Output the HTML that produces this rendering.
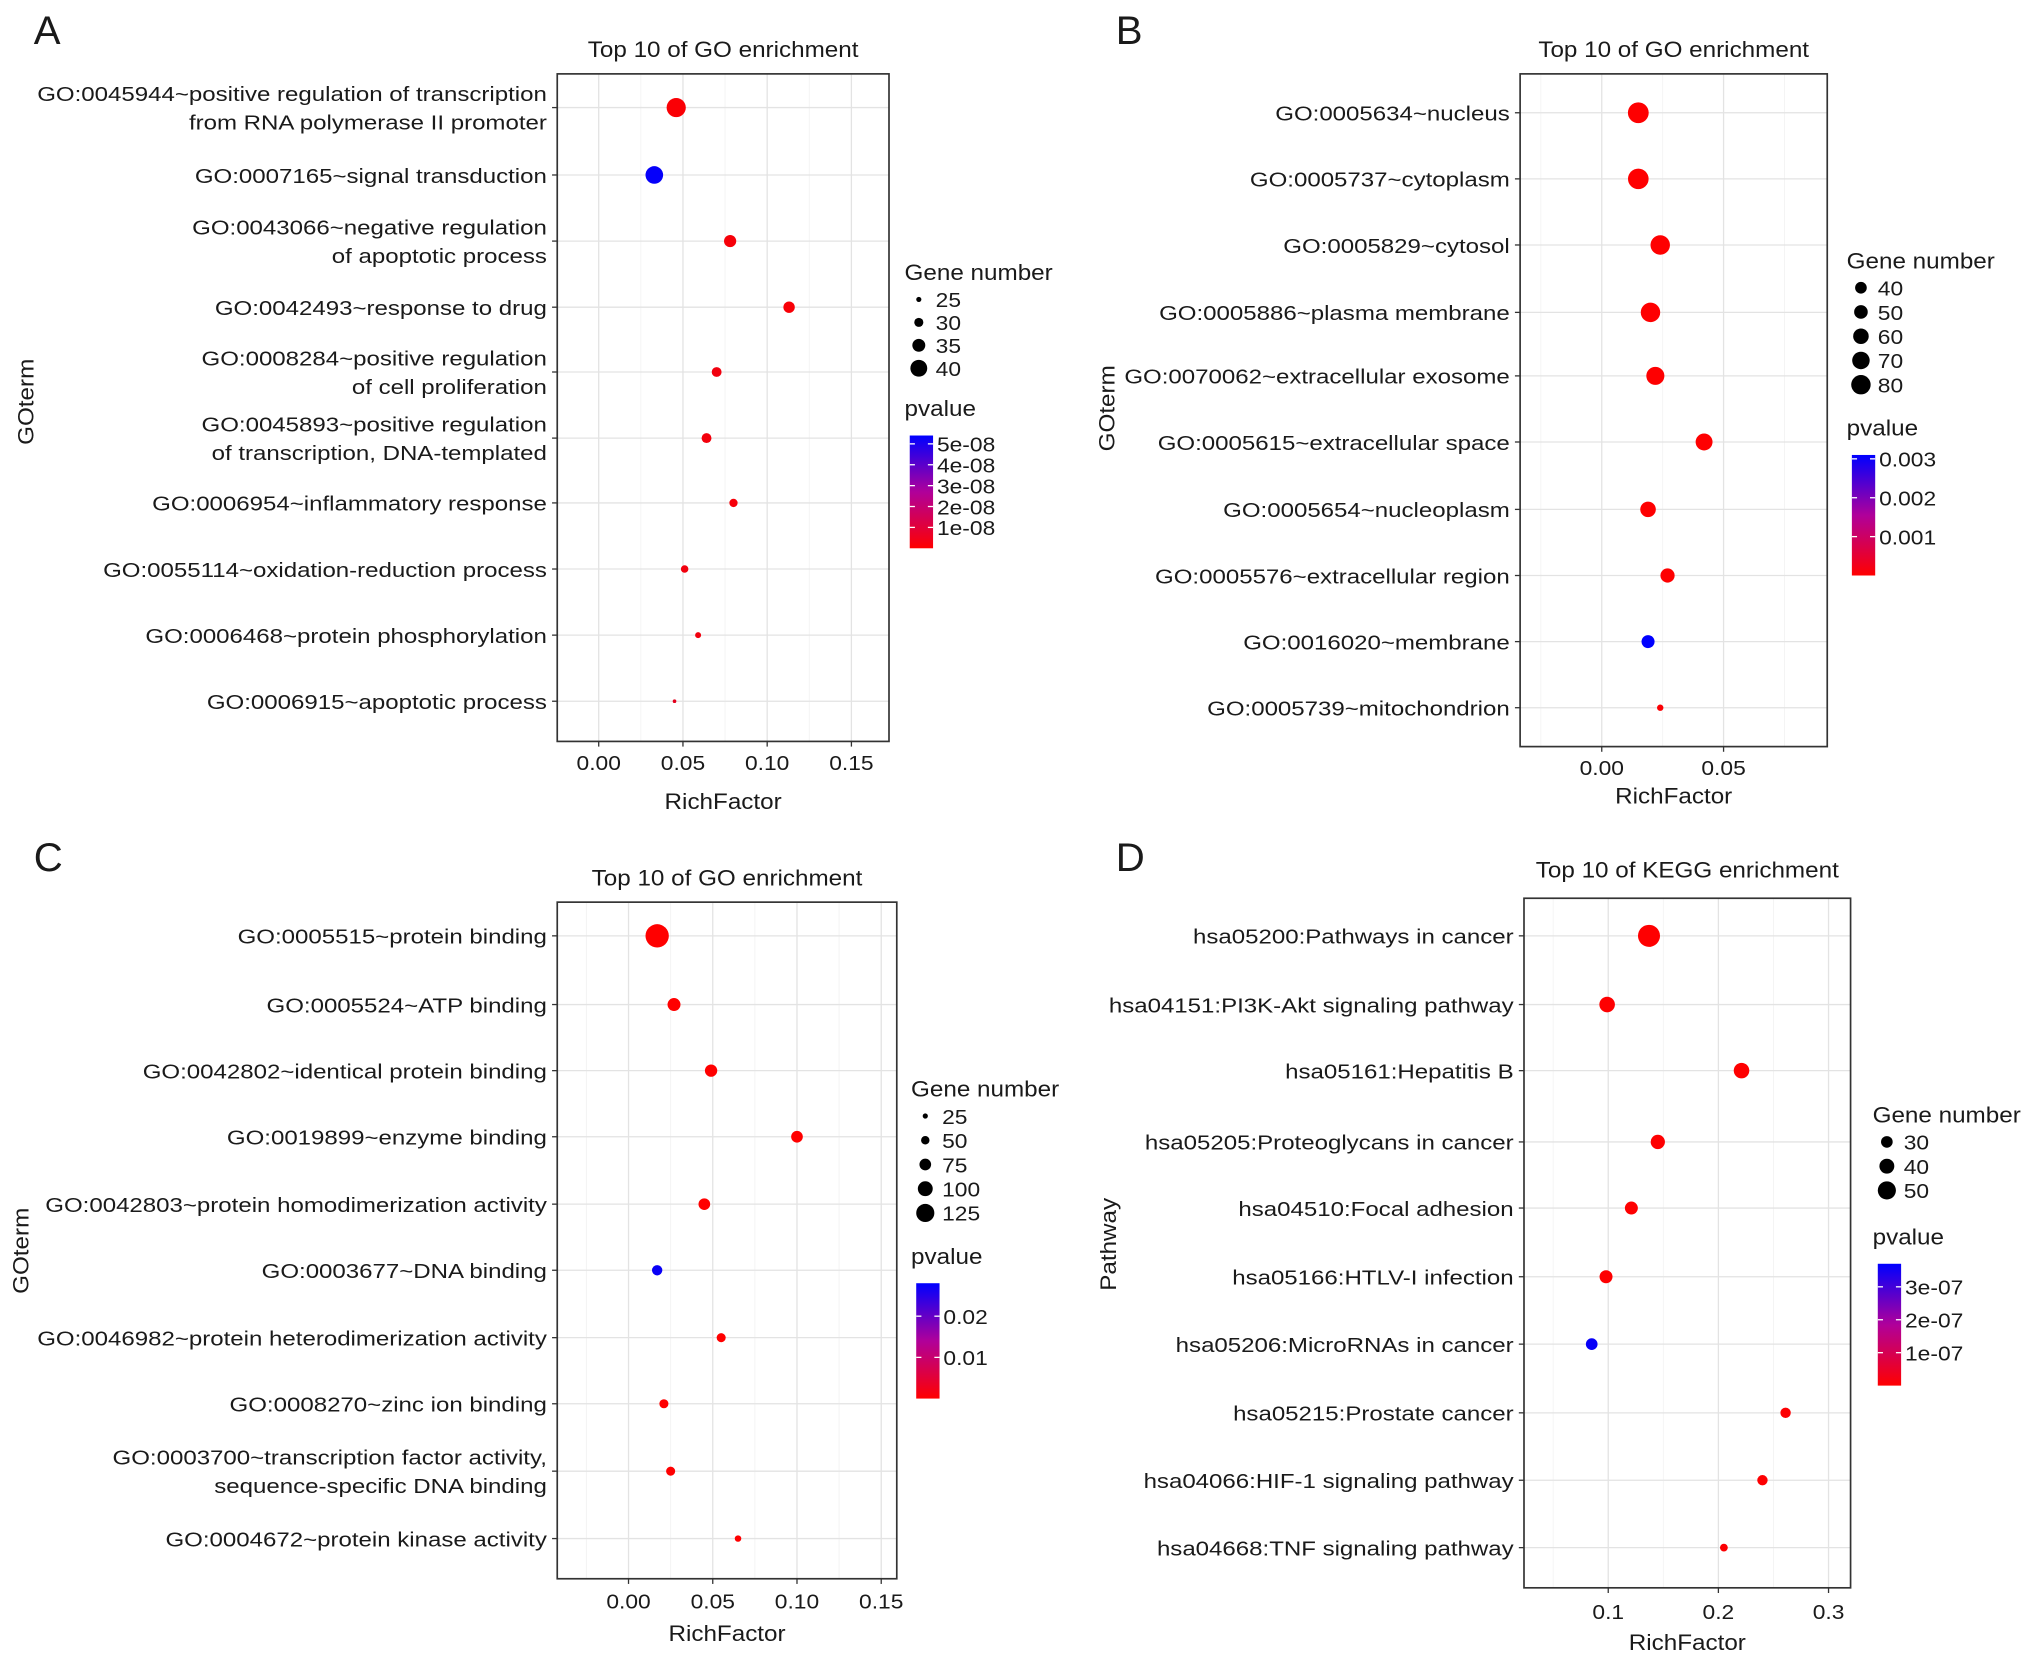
<!DOCTYPE html>
<html><head><meta charset="utf-8"><style>
html,body{margin:0;padding:0;background:#fff;}
svg{display:block;font-family:"Liberation Sans",Arial,sans-serif;}
</style></head><body>
<svg id="fig" width="2032" height="1663" viewBox="0 0 1568 1283" preserveAspectRatio="none" xmlns="http://www.w3.org/2000/svg"></svg>
<script>
// Panel A
const aTerms = ["GO:0045944~positive regulation of transcription\nfrom RNA polymerase II promoter","GO:0007165~signal transduction","GO:0043066~negative regulation\nof apoptotic process","GO:0042493~response to drug","GO:0008284~positive regulation\nof cell proliferation","GO:0045893~positive regulation\nof transcription, DNA-templated","GO:0006954~inflammatory response","GO:0055114~oxidation-reduction process","GO:0006468~protein phosphorylation","GO:0006915~apoptotic process"];
const aRich = [0.046,0.033,0.078,0.113,0.070,0.064,0.080,0.051,0.059,0.045];
const aCount = [43,41,34,33,31,31,29,28,26,23];
const aP = [1e-9,5.3e-8,2e-9,1.5e-9,3e-9,2.5e-9,2e-9,3e-9,3e-9,6e-9];
const aXTicks = [0,0.05,0.10,0.15];
const aXTickLabels = ["0.00","0.05","0.10","0.15"];
const aSizeLegend = [25,30,35,40];
const aPTicks = [5e-8,4e-8,3e-8,2e-8,1e-8];
const aPTickLabels = ["5e-08","4e-08","3e-08","2e-08","1e-08"];
// Panel B
const bTerms = ["GO:0005634~nucleus","GO:0005737~cytoplasm","GO:0005829~cytosol","GO:0005886~plasma membrane","GO:0070062~extracellular exosome","GO:0005615~extracellular space","GO:0005654~nucleoplasm","GO:0005576~extracellular region","GO:0016020~membrane","GO:0005739~mitochondrion"];
const bRich = [0.015,0.015,0.024,0.020,0.022,0.042,0.019,0.027,0.019,0.024];
const bCount = [87,86,80,80,73,67,60,53,47,13];
const bP = [1e-5,1e-5,1e-5,1e-5,1e-5,1e-5,1e-5,1e-5,3.1e-3,5e-5];
const bXTicks = [0,0.05];
const bXTickLabels = ["0.00","0.05"];
const bSizeLegend = [40,50,60,70,80];
const bPTicks = [0.003,0.002,0.001];
const bPTickLabels = ["0.003","0.002","0.001"];
// Panel C
const cTerms = ["GO:0005515~protein binding","GO:0005524~ATP binding","GO:0042802~identical protein binding","GO:0019899~enzyme binding","GO:0042803~protein homodimerization activity","GO:0003677~DNA binding","GO:0046982~protein heterodimerization activity","GO:0008270~zinc ion binding","GO:0003700~transcription factor activity,\nsequence-specific DNA binding","GO:0004672~protein kinase activity"];
const cRich = [0.017,0.027,0.049,0.100,0.045,0.017,0.055,0.021,0.025,0.065];
const cCount = [165,85,80,75,75,65,55,55,55,35];
const cP = [1e-5,1e-5,1e-5,1e-5,1e-5,0.027,1e-5,1e-4,1e-4,1e-4];
const cXTicks = [0,0.05,0.10,0.15];
const cXTickLabels = ["0.00","0.05","0.10","0.15"];
const cSizeLegend = [25,50,75,100,125];
const cPTicks = [0.02,0.01];
const cPTickLabels = ["0.02","0.01"];
// Panel D
const dTerms = ["hsa05200:Pathways in cancer","hsa04151:PI3K-Akt signaling pathway","hsa05161:Hepatitis B","hsa05205:Proteoglycans in cancer","hsa04510:Focal adhesion","hsa05166:HTLV-I infection","hsa05206:MicroRNAs in cancer","hsa05215:Prostate cancer","hsa04066:HIF-1 signaling pathway","hsa04668:TNF signaling pathway"];
const dRich = [0.137,0.099,0.221,0.145,0.121,0.098,0.085,0.261,0.240,0.205];
const dCount = [62,42,42,38,34,34,30,26,26,18];
const dP = [1e-9,1e-9,1e-9,2e-9,2e-9,2e-9,3.6e-7,3e-9,3e-9,5e-9];
const dXTicks = [0.1,0.2,0.3];
const dXTickLabels = ["0.1","0.2","0.3"];
const dSizeLegend = [30,40,50];
const dPTicks = [3e-7,2e-7,1e-7];
const dPTickLabels = ["3e-07","2e-07","1e-07"];

const NS="http://www.w3.org/2000/svg";
const svg=document.getElementById('fig');
function mk(tag,attrs,parent){
  const e=document.createElementNS(NS,tag);
  for(const k in attrs)e.setAttribute(k,attrs[k]);
  (parent||svg).appendChild(e);
  return e;
}
function txt(s,x,y,size,anchor,parent,sx){
  sx=sx||1.1;
  const t=mk('text',{x:0,y:0,'font-size':size,'text-anchor':anchor||'start',fill:'#1a1a1a',transform:`translate(${x},${y}) scale(${sx},1)`},parent);
  t.textContent=s;return t;
}
function pcolor(p,pmin,pmax){
  let f=(p-pmin)/(pmax-pmin);f=Math.max(0,Math.min(1,f));
  const r=Math.round(255*(1-f)),b=Math.round(255*f);
  return `rgb(${r},0,${b})`;
}
function panel(cfg){
  const g=mk('g',{},svg);
  
  
  const L=cfg.box[0],T=cfg.box[1],R=cfg.box[2],B=cfg.box[3];
  const xs=v=>cfg.x0px+(v-cfg.x0)*cfg.pxPer;
  const rs=n=>cfg.r0+(n-cfg.n0)*cfg.rPer;
  const lt=txt(cfg.letter,cfg.letterPos[0],cfg.letterPos[1],31,'start',g,1.0);
  
  
  const tt=txt(cfg.title,(L+R)/2,cfg.titleY,17,'middle',g);
  
  
  mk('rect',{x:L,y:T,width:R-L,height:B-T,fill:'#fff'},g);
  const step=cfg.ticks[1]-cfg.ticks[0];
  for(let v=cfg.ticks[0]-step*2;v<=cfg.ticks[cfg.ticks.length-1]+step*2;v+=step/2){
    const X=xs(v);if(X<=L||X>=R)continue;
    const major=cfg.ticks.some(t=>Math.abs(t-v)<1e-9);
    mk('line',{x1:X,x2:X,y1:T,y2:B,stroke:major?'#e3e3e3':'#f3f3f3','stroke-width':major?1:0.7},g);
  }
  cfg.rows.forEach(y=>mk('line',{x1:L,x2:R,y1:y,y2:y,stroke:'#e3e3e3','stroke-width':1},g));
  const frame=mk('rect',{x:L,y:T,width:R-L,height:B-T,fill:'none',stroke:'#333','stroke-width':1.3},g);
  
  
  cfg.terms.forEach((s,i)=>{
    const y=cfg.rows[i];
    mk('line',{x1:L-4,x2:L,y1:y,y2:y,stroke:'#333','stroke-width':1},g);
    const lines=s.split('\n');
    lines.forEach((ln,j)=>{
      const yy=y+6+(j-(lines.length-1)/2)*22;
      const t=txt(ln,L-8,yy,16,'end',g,1.16);
      
      
    });
  });
  cfg.ticks.forEach((v,i)=>{
    const X=xs(v);
    mk('line',{x1:X,x2:X,y1:B,y2:B+4,stroke:'#333','stroke-width':1},g);
    const t=txt(cfg.tickLabels[i],X,cfg.tickY,16,'middle',g);
    
    
  });
  const xt=txt('RichFactor',(L+R)/2,cfg.xTitleY,17,'middle',g);
  
  
  const yt=mk('text',{x:0,y:0,'font-size':17,'text-anchor':'middle',fill:'#1a1a1a',transform:`translate(${cfg.yTitlePos[0]},${cfg.yTitlePos[1]}) rotate(-90) scale(1.1,1)`},g);
  yt.textContent=cfg.yTitle;
  
  
  cfg.rich.forEach((v,i)=>{
    const c=mk('circle',{cx:xs(v),cy:cfg.rows[i],r:Math.max(1.2,rs(cfg.count[i])),fill:pcolor(cfg.p[i],cfg.pmin,cfg.pmax)},g);
    
    
  });
  const lx=cfg.legX;
  const gl=txt('Gene number',lx,cfg.legY,17,'start',g);
  
  
  cfg.sizeLegend.forEach((n,i)=>{
    const y=cfg.legY+20+i*cfg.legStep;
    const c=mk('circle',{cx:lx+11,cy:y-5,r:Math.max(1.2,rs(n)),fill:'#000'},g);
    
    
    txt(String(n),lx+24,y+1,16,'start',g);
  });
  const pl=txt('pvalue',lx,cfg.pY,17,'start',g);
  
  
  const gid='grad'+cfg.letter;
  const defs=mk('defs',{},g);
  const lg=mk('linearGradient',{id:gid,x1:0,y1:0,x2:0,y2:1},defs);
  mk('stop',{offset:0,'stop-color':'#0000ff'},lg);
  mk('stop',{offset:0.5,'stop-color':'#b0009a'},lg);
  mk('stop',{offset:1,'stop-color':'#ff0000'},lg);
  const bx=lx+4,bt=cfg.pY+15,bb=bt+cfg.barH;
  const bar=mk('rect',{x:bx,y:bt,width:18,height:cfg.barH,fill:`url(#${gid})`},g);
  
  
  const ps=p=>bb-(p-cfg.pmin)/(cfg.pmax-cfg.pmin)*cfg.barH;
  cfg.pTicks.forEach((p,i)=>{
    const y=ps(p);
    mk('line',{x1:bx,x2:bx+4,y1:y,y2:y,stroke:'#fff','stroke-width':1},g);
    mk('line',{x1:bx+14,x2:bx+18,y1:y,y2:y,stroke:'#fff','stroke-width':1},g);
    txt(cfg.pTickLabels[i],bx+21,y+6,16,'start',g);
  });
}
panel({name:'panel-a',letter:'A',letterPos:[26,34],title:'Top 10 of GO enrichment',titleY:44,box:[430,57,686,572],
  rows:[83,135,186,237,287,338,388,439,490,541],terms:aTerms,rich:aRich,count:aCount,p:aP,
  x0:0,x0px:462,pxPer:1300,ticks:aXTicks,tickLabels:aXTickLabels,tickY:594,xTitleY:624,yTitle:'GOterm',yTitlePos:[26,310],
  r0:2,n0:25,rPer:0.3,pmin:0,pmax:5.4e-8,legX:698,legY:216,legStep:17.7,sizeLegend:aSizeLegend,pY:321,barH:87,pTicks:aPTicks,pTickLabels:aPTickLabels});
panel({name:'panel-b',letter:'B',letterPos:[861,34],title:'Top 10 of GO enrichment',titleY:44,box:[1173,57,1410,576],
  rows:[87,138,189,241,290,341,393,444,495,546],terms:bTerms,rich:bRich,count:bCount,p:bP,
  x0:0,x0px:1236,pxPer:1880,ticks:bXTicks,tickLabels:bXTickLabels,tickY:598,xTitleY:620,yTitle:'GOterm',yTitlePos:[860,315],
  r0:4.5,n0:40,rPer:0.075,pmin:0,pmax:3.1e-3,legX:1425,legY:207,legStep:18.7,sizeLegend:bSizeLegend,pY:336,barH:93,pTicks:bPTicks,pTickLabels:bPTickLabels});
panel({name:'panel-c',letter:'C',letterPos:[26,672],title:'Top 10 of GO enrichment',titleY:683,box:[430,696,692,1218],
  rows:[722,775,826,877,929,980,1032,1083,1135,1187],terms:cTerms,rich:cRich,count:cCount,p:cP,
  x0:0,x0px:485,pxPer:1300,ticks:cXTicks,tickLabels:cXTickLabels,tickY:1241,xTitleY:1266,yTitle:'GOterm',yTitlePos:[22,965],
  r0:2,n0:25,rPer:0.05,pmin:0,pmax:0.028,legX:703,legY:846,legStep:18.7,sizeLegend:cSizeLegend,pY:975,barH:89,pTicks:cPTicks,pTickLabels:cPTickLabels});
panel({name:'panel-d',letter:'D',letterPos:[861,672],title:'Top 10 of KEGG enrichment',titleY:677,box:[1176,693,1428,1225],
  rows:[722,775,826,881,932,985,1037,1090,1142,1194],terms:dTerms,rich:dRich,count:dCount,p:dP,
  x0:0.1,x0px:1241,pxPer:850,ticks:dXTicks,tickLabels:dXTickLabels,tickY:1249,xTitleY:1273,yTitle:'Pathway',yTitlePos:[861,960],
  r0:4.5,n0:30,rPer:0.125,pmin:0,pmax:3.7e-7,legX:1445,legY:866,legStep:18.7,sizeLegend:dSizeLegend,pY:960,barH:94,pTicks:dPTicks,pTickLabels:dPTickLabels});
</script>
</body></html>
